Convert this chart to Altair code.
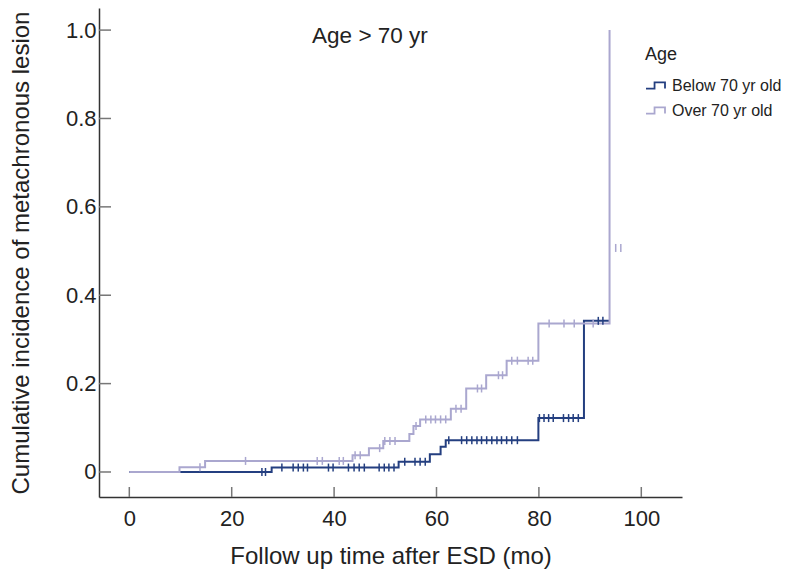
import altair as alt
import pandas as pd

# ---- data ----
groups = ["Below 70 yr old", "Over 70 yr old"]
colors = ["#243f80", "#aaa7cf"]

below_t = [0, 27.8, 52.6, 58.7, 60.8, 61.8, 79.9, 88.8, 93.7]
below_y = [0, 0.010, 0.023, 0.040, 0.057, 0.072, 0.122, 0.342, 0.342]

over_t = [0, 9.8, 14.8, 43.6, 46.8, 49.6, 54.7, 55.5, 56.8, 62.8, 65.8, 69.7, 73.7, 79.9, 93.8]
over_y = [0, 0.011, 0.025, 0.038, 0.054, 0.070, 0.086, 0.104, 0.119, 0.143, 0.189, 0.219, 0.252, 0.336, 1.0]

below_cens_t = [25.9, 26.6,
                29.8, 32.0, 33.0, 34.0, 34.8, 38.9, 39.8, 42.8, 43.9, 44.9, 45.9, 48.8, 49.8, 50.7, 51.7,
                53.8, 55.8, 56.8, 57.8,
                62.4, 64.9, 65.9, 66.9, 67.9, 68.8, 69.8, 70.8, 71.8, 72.7, 73.7, 74.7, 75.8,
                80.1, 81.0, 81.9, 82.8, 84.8, 85.8, 86.7, 87.7,
                91.6, 92.5]
below_cens_y = [0, 0,
                0.010, 0.010, 0.010, 0.010, 0.010, 0.010, 0.010, 0.010, 0.010, 0.010, 0.010, 0.010, 0.010, 0.010, 0.010,
                0.023, 0.023, 0.023, 0.023,
                0.072, 0.072, 0.072, 0.072, 0.072, 0.072, 0.072, 0.072, 0.072, 0.072, 0.072, 0.072, 0.072,
                0.122, 0.122, 0.122, 0.122, 0.122, 0.122, 0.122, 0.122,
                0.342, 0.342]

over_cens_t = [13.8,
               22.7, 36.7, 37.7, 41.0, 41.8,
               44.1, 45.1,
               48.9,
               49.9, 50.9, 51.9,
               56.0,
               57.9, 58.9, 59.8, 60.8, 61.8,
               63.8, 64.8,
               68.0, 68.8,
               72.1, 72.9,
               74.7, 75.8, 77.9, 78.8,
               82.0, 84.9, 86.9, 90.6,
               95.0, 96.0]
over_cens_y = [0.011,
               0.025, 0.025, 0.025, 0.025, 0.025,
               0.038, 0.038,
               0.054,
               0.070, 0.070, 0.070,
               0.104,
               0.119, 0.119, 0.119, 0.119, 0.119,
               0.143, 0.143,
               0.189, 0.189,
               0.219, 0.219,
               0.252, 0.252, 0.252, 0.252,
               0.336, 0.336, 0.336, 0.336,
               0.507, 0.507]

x_ticks = [0, 20, 40, 60, 80, 100]
y_ticks = [0, 0.2, 0.4, 0.6, 0.8, 1.0]

annot_text = ["Age > 70 yr"]
annot_x = [47]
annot_y = [0.970]

# ---- tables ----
lines = pd.concat([
    pd.DataFrame({"t": below_t, "p": below_y, "g": groups[0], "o": 0}),
    pd.DataFrame({"t": over_t, "p": over_y, "g": groups[1], "o": 1}),
])
cens = pd.concat([
    pd.DataFrame({"t": below_cens_t, "p": below_cens_y, "g": groups[0]}),
    pd.DataFrame({"t": over_cens_t, "p": over_cens_y, "g": groups[1]}),
])
xt = pd.DataFrame({"t": x_ticks})
yt = pd.DataFrame({"p": y_ticks})
ann = pd.DataFrame({"text": annot_text, "t": annot_x, "p": annot_y})

FONT = "Liberation Sans"
W, H = 583, 489
XT = "Follow up time after ESD (mo)"
YT = "Cumulative incidence of metachronous lesion"
xs = alt.Scale(domain=[-5.92, 107.95], nice=False, zero=False)
ys = alt.Scale(domain=[-0.0566, 1.050], nice=False, zero=False)
cs = alt.Scale(domain=groups, range=colors)

xaxis = alt.Axis(values=x_ticks, ticks=False, grid=False, labelFontSize=22, labelPadding=11,
                 title=XT, titleFontSize=24, titleFontWeight="normal",
                 titlePadding=15, domainColor="#333333", domainWidth=1.5, labelColor="#222222",
                 titleColor="#222222")
yaxis = alt.Axis(values=y_ticks, ticks=False, grid=False, labelFontSize=22, labelPadding=3,
                 labelExpr="datum.value == 0 ? '0' : format(datum.value, '.1f')",
                 title=YT, titleFontSize=24,
                 titleFontWeight="normal", titleX=-71, titleBaseline="alphabetic",
                 domainColor="#333333", domainWidth=1.5, labelColor="#222222", titleColor="#222222")

legend = alt.Legend(title="Age", orient="none", legendX=546, legendY=38, padding=0,
                    titleFontSize=18, titleFontWeight="normal", titleColor="#222222",
                    labelFontSize=16, labelColor="#222222", labelOffset=6,
                    symbolType="M-1,0.32L-0.1,0.32L-0.1,-0.32L1,-0.32L1,0.32",
                    symbolSize=361, symbolStrokeWidth=1.8, symbolFillColor="transparent",
                    rowPadding=6, titlePadding=11)

line = alt.Chart(lines).mark_line(interpolate="step-after", strokeWidth=2).encode(
    x=alt.X("t:Q", scale=xs, axis=xaxis),
    y=alt.Y("p:Q", scale=ys, axis=yaxis),
    color=alt.Color("g:N", scale=cs, legend=legend),
    detail="g:N",
    order="o:Q",
)

pts = alt.Chart(cens).mark_point(shape="M0,-1L0,1", filled=False, size=64, strokeWidth=1.5, opacity=1).encode(
    x=alt.X("t:Q", scale=xs, title=XT),
    y=alt.Y("p:Q", scale=ys, title=YT),
    color=alt.Color("g:N", scale=cs, legend=None),
)

xtick = alt.Chart(xt).mark_rule(color="#777777", strokeWidth=1.5).encode(
    x=alt.X("t:Q", scale=xs, title=XT),
    y=alt.value(H), y2=alt.value(H - 10),
)
ytick = alt.Chart(yt).mark_rule(color="#777777", strokeWidth=1.5).encode(
    y=alt.Y("p:Q", scale=ys, title=YT),
    x=alt.value(0), x2=alt.value(12),
)

txt = alt.Chart(ann).mark_text(fontSize=22.5, font=FONT, baseline="alphabetic", align="center",
                               color="#222222").encode(
    x=alt.X("t:Q", scale=xs, title=XT), y=alt.Y("p:Q", scale=ys, title=YT), text="text:N")

chart = alt.layer(line, pts, xtick, ytick, txt).properties(
    width=W, height=H, autosize="none",
    padding={"left": 91, "top": 0, "right": 107, "bottom": 74},
).configure(font=FONT).configure_view(stroke=None)

chart.save("out.html", embed_options={"renderer": "svg", "actions": False})
